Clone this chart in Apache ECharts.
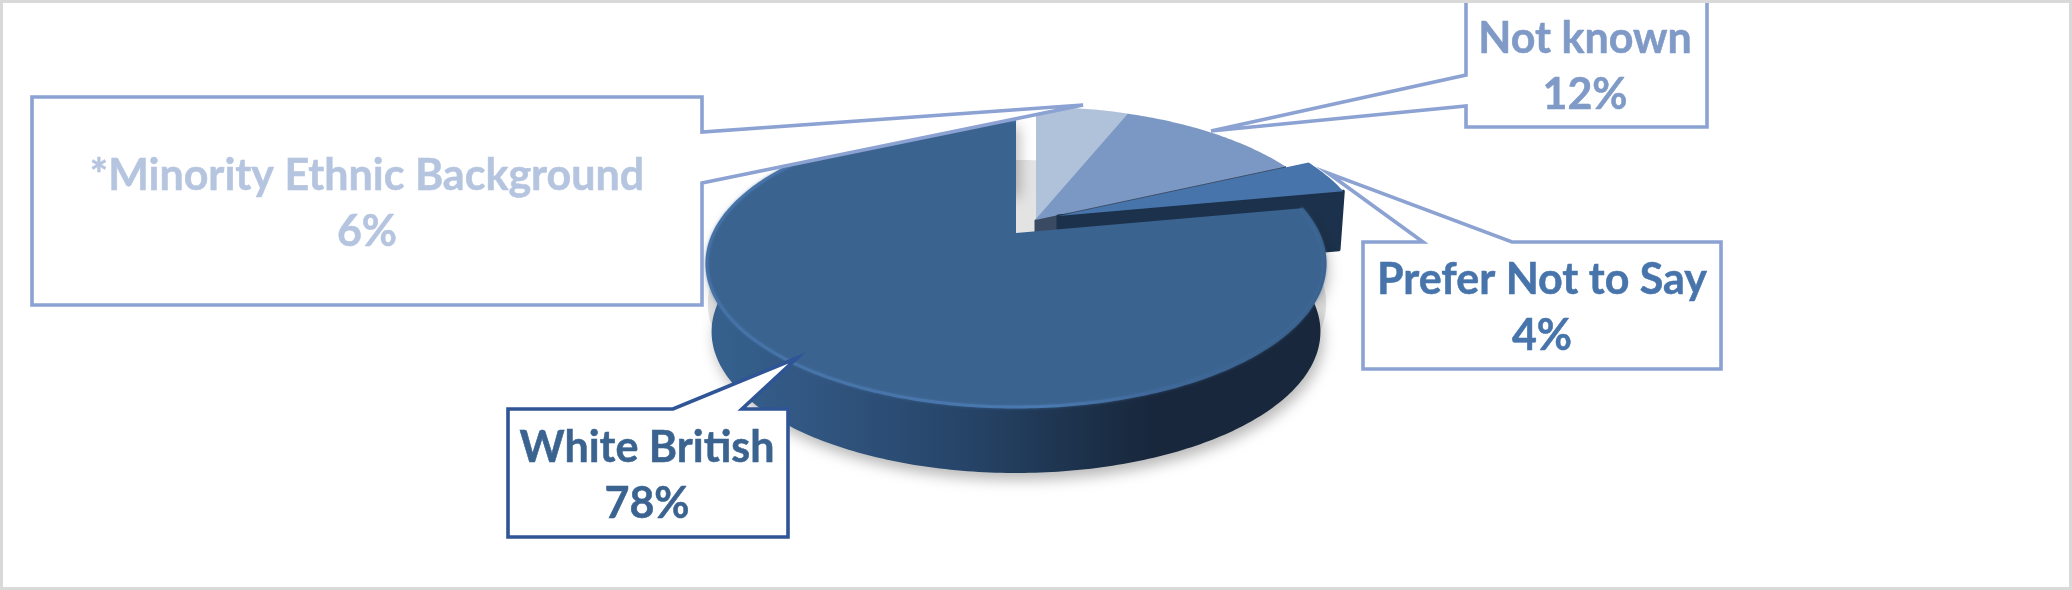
<!DOCTYPE html>
<html><head><meta charset="utf-8">
<style>html,body{margin:0;padding:0;background:#fff}#c{width:2072px;height:590px}</style>
<script src="https://cdn.jsdelivr.net/npm/echarts@6/dist/echarts.min.js"></script>
</head><body><div id="c"></div>
<script>
// ---- data (clockwise from 12 o'clock) ----
const categories = ['*Minority Ethnic Background', 'Not known', 'Prefer Not to Say', 'White British'];
const shares = [6, 12, 4, 78];
const sliceColors = ['#b0c1da', '#7b98c4', '#4674ab', '#3b6390'];
const labelColors = ['#b6c5df', '#7f9ac6', '#4674ab', '#3b6390'];
const borderColors = ['#8ba2d2', '#8ba2d2', '#8ba2d2', '#2f5597'];

// ---- layout of the perspective disc ----
const A = 302, B = 137, K = 0.2126, BOTTOM_SCALE = 0.985;
const origins = [{x:1036,y:220,depth:60},{x:1035,y:220,depth:60},{x:1058,y:216,depth:58},{x:1016,y:233,depth:68.6}];
const shadowOrigin = {x:1017,y:273};
const textAnchors = [[367,176,232],[1585,39,95],[1542,280,336],[647,448,504]];
const calloutOutlines = [
  [[32,97],[702,97],[702,132],[1083,105],[702,183],[702,305],[32,305]],
  [[1466,-5],[1707,-5],[1707,127],[1466,127],[1466,106],[1211,131],[1466,75]],
  [[1363,242],[1423,242],[1328,173],[1512,242],[1721,242],[1721,369],[1363,369]],
  [[508,409],[673,409],[797,358],[742,409],[788,409],[788,537],[508,537]]
];

const total = shares.reduce((a,b)=>a+b,0);
const startShare = i => shares.slice(0,i).reduce((a,b)=>a+b,0);
const toAngle = s => s/total*2*Math.PI;
function proj(theta, o, s=1, dy=0){
  const d = 1 + K*Math.cos(theta);
  return [o.x + s*A*Math.sin(theta)/d, o.y + dy - s*B*Math.cos(theta)/d];
}
function arc(a0,a1,o,s,dy){
  const n = Math.max(2, Math.ceil(Math.abs(a1-a0)/0.015)), out=[];
  for(let j=0;j<=n;j++) out.push(proj(a0+(a1-a0)*j/n,o,s,dy));
  return out;
}
const hGrad = (x0,x1,stops)=>new echarts.graphic.LinearGradient(x0,0,x1,0,stops.map(([offset,color])=>({offset,color})),true);

function renderSlice(params, api){
  const i = params.dataIndex, o = origins[i];
  const a0 = toAngle(startShare(i)), a1 = toAngle(startShare(i)+api.value(0));
  const apex=[o.x,o.y], top = arc(a0,a1,o,1,0), kids=[];
  const sideColor = i===1 ? '#3b4a63' : '#1c314b';
  if(i===0){
    // ground shadow seen through the gap next to the exploded slices
    kids.push({type:'polygon',shape:{points:arc(0,2*Math.PI,shadowOrigin,1,0)},style:{fill:'#e3e3e3'}});
  }
  if(i===1 || i===2){
    const e = top[top.length-1];
    const eb = proj(a1,o,BOTTOM_SCALE,o.depth);
    kids.push({type:'polygon',shape:{points:[apex,e,eb,[o.x,o.y+o.depth]]},
      style:{fill:sideColor,stroke:sideColor,lineWidth:i===2?3:1,lineJoin:'round'}});
  }
  if(i===3){
    // outer wall of the large slice
    const lower = arc(a1,a0,o,BOTTOM_SCALE,o.depth);
    kids.push({type:'polygon',shape:{points:top.concat(lower)},style:{
      fill:hGrad(705,1326,[[0,'#36628f'],[0.2,'#30547e'],[0.42,'#264468'],[0.62,'#1c3049'],[0.72,'#18273c'],[1,'#18273c']]),
      shadowBlur:14,shadowColor:'rgba(0,0,0,0.28)',shadowOffsetY:7,shadowOffsetX:3}});
  }
  kids.push({type:'polygon',shape:{points:[apex].concat(top)},style:{fill:sliceColors[i]}});
  if(i===3){
    // bevelled rim along the top surface
    kids.push({type:'polyline',shape:{points:top},style:{fill:null,lineWidth:3,lineCap:'butt',
      stroke:hGrad(705,1326,[[0,'#4572a6'],[0.55,'#4a79b0'],[0.72,'#40699a'],[0.9,'#3b6390'],[1,'#3b6390']]),
      shadowBlur:3,shadowColor:'rgba(74,121,176,0.5)'}});
  }
  return {type:'group',children:kids};
}
function renderCallout(params, api){
  const i = params.dataIndex, t = textAnchors[i];
  const font = 'bold 43px Lato';
  const txt = (s,y)=>({type:'text',style:{text:s,x:t[0],y:y,font:font,fill:labelColors[i],stroke:labelColors[i],lineWidth:0.5,align:'center',verticalAlign:'middle'}});
  return {type:'group',children:[
    {type:'polygon',shape:{points:calloutOutlines[i]},style:{fill:'#fff',stroke:borderColors[i],lineWidth:3.6,lineJoin:'miter'}},
    txt(categories[i],t[1]), txt(api.value(0)+'%',t[2])
  ]};
}
const sliceData = shares.map((v,i)=>({value:v,name:categories[i]}));
const chart = echarts.init(document.getElementById('c'),null,{renderer:'canvas'});
chart.setOption({
  animation:false,backgroundColor:'#fff',tooltip:{show:false},
  series:[
    {type:'custom',name:'slices',coordinateSystem:'none',silent:true,z:2,clip:false,data:sliceData,renderItem:renderSlice},
    {type:'custom',name:'labels',coordinateSystem:'none',silent:true,z:3,clip:false,data:sliceData,renderItem:renderCallout}
  ],
  graphic:[{type:'rect',z:10,silent:true,shape:{x:1.5,y:1.5,width:2069,height:587},style:{fill:null,stroke:'#d9d9d9',lineWidth:3}}]
});
</script></body></html>
